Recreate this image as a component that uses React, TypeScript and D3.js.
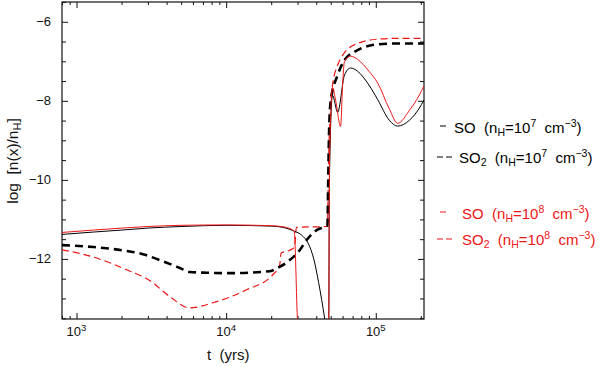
import React, { useEffect, useRef } from "react";
import * as d3 from "d3";

// SO, n_H = 1e7 (black solid)
const soN7Time = [800, 1300, 2000, 3000, 5000, 10000, 20000, 25000, 28600, 32000, 35500, 38500, 41500, 45500, 47500, 48400, 49000, 51400, 55600, 61800, 67700, 75500, 90000, 103000, 123000, 140000, 168000, 195000, 210000];
const soN7 = [-11.38, -11.32, -11.27, -11.22, -11.18, -11.15, -11.17, -11.22, -11.3, -11.4, -11.62, -12.0, -12.6, -13.5, -14, -14, -10, -7.86, -8.29, -7.35, -7.17, -7.25, -7.6, -7.97, -8.49, -8.64, -8.49, -8.19, -7.98];

// SO2, n_H = 1e7 (black dashed)
const so2N7Time = [800, 1300, 2000, 2780, 3610, 4910, 5700, 7430, 10600, 19600, 22800, 26600, 31000, 34500, 40300, 46000, 47500, 48100, 48800, 50000, 55600, 61800, 75500, 103000, 140000, 210000];
const so2N7 = [-11.65, -11.7, -11.78, -11.88, -12.03, -12.23, -12.33, -12.35, -12.36, -12.31, -12.2, -12.03, -11.78, -11.52, -11.27, -11.18, -11.15, -10.0, -8.7, -8.0, -7.35, -6.97, -6.72, -6.57, -6.55, -6.55];

// SO, n_H = 1e8 (red solid)
const soN8Time = [800, 1300, 2000, 3000, 5000, 10000, 20000, 25000, 28500, 30000, 30500, 47500, 48400, 49100, 51400, 54000, 58200, 60000, 61800, 67700, 75500, 90000, 103000, 123000, 140000, 168000, 195000, 210000];
const soN8 = [-11.33, -11.27, -11.22, -11.18, -11.15, -11.14, -11.16, -11.2, -11.3, -13.6, -14, -14, -14, -9.5, -7.66, -8.0, -8.65, -7.6, -7.0, -6.87, -6.95, -7.25, -7.55, -8.2, -8.57, -8.24, -7.86, -7.62];

// SO2, n_H = 1e8 (red dashed)
const so2N8Time = [800, 1290, 2180, 3100, 4220, 5700, 8150, 13700, 20500, 22800, 23300, 26600, 28600, 29500, 47500, 48300, 49100, 51400, 55600, 61800, 75500, 103000, 140000, 210000];
const so2N8 = [-11.77, -11.95, -12.28, -12.55, -12.96, -13.24, -13.11, -12.78, -12.4, -12.15, -11.85, -11.78, -11.7, -11.2, -11.18, -9.6, -8.7, -7.6, -7.1, -6.78, -6.55, -6.44, -6.42, -6.42];

const xMajor = [1e3, 1e4, 1e5];
const xMajorExp = ["3", "4", "5"];
const yMajor = [-6, -8, -10, -12];

const RED = "#ee1515";
const FONT = "'Liberation Sans', Arial, sans-serif";

const App = () => {
  const ref = useRef<SVGSVGElement>(null);

  useEffect(() => {
    const margin = { top: 2, left: 62 };
    const width = 362,
      height = 317;

    const root = d3.select(ref.current);
    root.selectAll("*").remove();
    const svg = root.append("g").attr("transform", `translate(${margin.left},${margin.top})`);

    const x = d3.scaleLog().domain([800, 2.1e5]).range([0, width]);
    const y = d3.scaleLinear().domain([-13.52, -5.5]).range([height, 0]);

    svg
      .append("clipPath")
      .attr("id", "plot-clip")
      .append("rect")
      .attr("width", width)
      .attr("height", height);

    // minor / major ticks (pointing inward on all four sides)
    const xMinor: number[] = [];
    [100, 1000, 10000, 100000].forEach((d) => {
      for (let k = 2; k <= 9; k++) {
        const v = d * k;
        if (v >= 800 && v <= 2.1e5) xMinor.push(v);
      }
    });
    const yMinor = d3.range(-13.5, -5.49, 0.5).filter((v) => v % 2 !== 0);

    const noLabel = () => "";
    const axes = svg.append("g").attr("stroke-width", 1);
    axes.append("g").attr("transform", `translate(0,${height})`).call(d3.axisBottom(x).tickValues(xMajor).tickSize(-6).tickFormat(noLabel));
    axes.append("g").attr("transform", `translate(0,${height})`).call(d3.axisBottom(x).tickValues(xMinor).tickSize(-3).tickFormat(noLabel));
    axes.append("g").call(d3.axisTop(x).tickValues(xMajor).tickSize(-6).tickFormat(noLabel));
    axes.append("g").call(d3.axisTop(x).tickValues(xMinor).tickSize(-3).tickFormat(noLabel));
    axes.append("g").call(d3.axisLeft(y).tickValues(yMajor).tickSize(-6).tickFormat(noLabel));
    axes.append("g").call(d3.axisLeft(y).tickValues(yMinor).tickSize(-4).tickFormat(noLabel));
    axes.append("g").attr("transform", `translate(${width},0)`).call(d3.axisRight(y).tickValues(yMajor).tickSize(-6).tickFormat(noLabel));
    axes.append("g").attr("transform", `translate(${width},0)`).call(d3.axisRight(y).tickValues(yMinor).tickSize(-4).tickFormat(noLabel));
    axes.selectAll(".domain").remove();
    axes.selectAll("line").attr("stroke", "#111");

    // frame
    svg
      .append("rect")
      .attr("width", width)
      .attr("height", height)
      .attr("fill", "none")
      .attr("stroke", "#111")
      .attr("stroke-width", 1.2);

    // x tick labels 10^n
    xMajor.forEach((v, i) => {
      const t = svg
        .append("text")
        .attr("x", x(v))
        .attr("y", height + 17)
        .attr("text-anchor", "middle")
        .style("font-family", FONT)
        .style("font-size", "13px")
        .attr("fill", "#111");
      t.append("tspan").text("10");
      t.append("tspan").attr("dy", -5).style("font-size", "9.5px").text(xMajorExp[i]);
    });

    // y tick labels
    svg
      .selectAll(".ylab")
      .data(yMajor)
      .enter()
      .append("text")
      .attr("x", -11)
      .attr("y", (d) => y(d) + 4.5)
      .attr("text-anchor", "end")
      .style("font-family", FONT)
      .style("font-size", "13px")
      .attr("fill", "#111")
      .text((d) => "\u2212" + Math.abs(d));

    // axis titles
    svg
      .append("text")
      .attr("x", x(1e4) + 2)
      .attr("y", height + 41)
      .attr("text-anchor", "middle")
      .style("font-family", FONT)
      .style("font-size", "15px")
      .attr("fill", "#111")
      .style("white-space", "pre")
      .text("t  (yrs)");

    const yTitle = svg
      .append("text")
      .attr("transform", `translate(${-44},${161 - margin.top}) rotate(-90)`)
      .attr("text-anchor", "middle")
      .style("font-family", FONT)
      .style("font-size", "15.5px")
      .attr("fill", "#111")
      .style("white-space", "pre");
    yTitle.append("tspan").text("log  [n(x)/n");
    yTitle.append("tspan").attr("dy", 3).style("font-size", "11px").text("H");
    yTitle.append("tspan").attr("dy", -3).text("]");

    // curves
    const line = d3
      .line<[number, number]>()
      .x((d) => x(d[0]))
      .y((d) => y(d[1]))
      .curve(d3.curveMonotoneX);

    const series = [
      { t: so2N8Time, v: so2N8, color: RED, width: 1.2, dash: "7,4" },
      { t: so2N7Time, v: so2N7, color: "#000", width: 2.6, dash: "8,5" },
      { t: soN7Time, v: soN7, color: "#000", width: 1, dash: null },
      { t: soN8Time, v: soN8, color: RED, width: 1, dash: null },
    ];

    const plot = svg.append("g").attr("clip-path", "url(#plot-clip)");
    series.forEach((s) => {
      plot
        .append("path")
        .datum(s.t.map((t, i) => [t, s.v[i]] as [number, number]))
        .attr("d", line)
        .attr("fill", "none")
        .attr("stroke", s.color)
        .attr("stroke-width", s.width)
        .attr("stroke-dasharray", s.dash);
    });

    // legend (drawn in page coordinates)
    const legendRows = [
      { color: "#000", dashed: false, sub: "", dens: "7", y: 133, textX: 454 },
      { color: "#000", dashed: true, sub: "2", dens: "7", y: 163, textX: 459 },
      { color: RED, dashed: false, sub: "", dens: "8", y: 219, textX: 462 },
      { color: RED, dashed: true, sub: "2", dens: "8", y: 245, textX: 462 },
    ];
    const legend = root.append("g");
    legendRows.forEach((r) => {
      if (r.dashed) {
        legend.append("line").attr("x1", 437).attr("x2", 443).attr("y1", r.y - 6).attr("y2", r.y - 6).attr("stroke", r.color).attr("stroke-width", 1);
        legend.append("line").attr("x1", 446).attr("x2", 452).attr("y1", r.y - 6).attr("y2", r.y - 6).attr("stroke", r.color).attr("stroke-width", 1);
      } else {
        legend.append("line").attr("x1", 440).attr("x2", 446).attr("y1", r.y - 7).attr("y2", r.y - 7).attr("stroke", r.color).attr("stroke-width", 1);
      }
      const t = legend
        .append("text")
        .attr("x", r.textX)
        .attr("y", r.y)
        .style("font-family", FONT)
        .style("font-size", "15px")
        .attr("fill", r.color)
        .style("white-space", "pre");
      t.append("tspan").text("SO");
      if (r.sub) t.append("tspan").attr("dy", 3).style("font-size", "10.5px").text(r.sub);
      t.append("tspan").attr("dy", r.sub ? -3 : 0).text("  (n");
      t.append("tspan").attr("dy", 3).style("font-size", "10.5px").text("H");
      t.append("tspan").attr("dy", -3).text("=10");
      t.append("tspan").attr("dy", -6).style("font-size", "10.5px").text(r.dens);
      t.append("tspan").attr("dy", 6).text("  cm");
      t.append("tspan").attr("dy", -6).style("font-size", "10.5px").text("\u22123");
      t.append("tspan").attr("dy", 6).text(")");
    });
  }, []);

  return <svg ref={ref} width={600} height={367} style={{ position: "absolute", left: 0, top: 0, background: "#fff" }} />;
};

export default App;
